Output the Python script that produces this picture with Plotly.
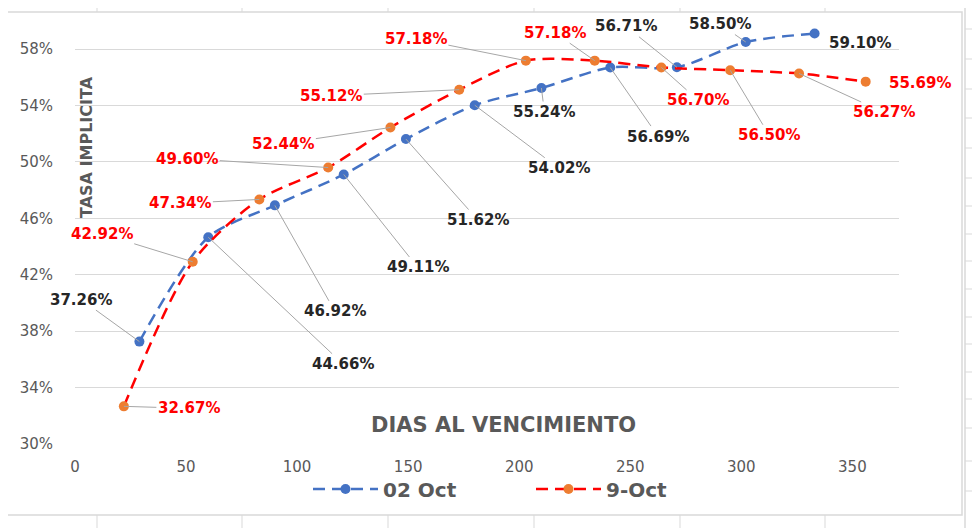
import plotly.graph_objects as go

# Días al vencimiento / tasa implícita (%)
dias_02oct = [29, 60, 90, 121, 149, 180, 210, 241, 271, 302, 333]
tasa_02oct = [37.26, 44.66, 46.92, 49.11, 51.62, 54.02, 55.24, 56.69, 56.71, 58.50, 59.10]

dias_09oct = [22, 53, 83, 114, 142, 173, 203, 234, 264, 295, 326, 356]
tasa_09oct = [32.67, 42.92, 47.34, 49.60, 52.44, 55.12, 57.18, 57.18, 56.70, 56.50, 56.27, 55.69]

y_ticks = [30, 34, 38, 42, 46, 50, 54, 58]
y_labels = ['30%', '34%', '38%', '42%', '46%', '50%', '54%', '58%']
x_ticks = [0, 50, 100, 150, 200, 250, 300, 350]

# label offsets in pixels (text centre relative to point), None = no leader line
off_02oct = [(-58, -42), (135, 127), (60, 106), (74, 93), (72, 81), (84, 63),
             (3, 24), (48, 69), (-51, -41), (-26, -18), None]
off_09oct = [(65, 2), (-91, -28), (-79, 4), (-141, -9), (-107, 16), (-128, 6),
             (-110, -22), (-40, -28), (37, 33), (39, 65), (85, 39), None]
free_02oct = {10: (45, 9)}
free_09oct = {11: (54, 1)}

BLUE = '#4472C4'
RED = '#FF0000'
ORANGE = '#ED7D31'
GREY = '#595959'
FONT = 'DejaVu Sans'

# plot area in screen pixels, used to place the decorative frame
PX_L, PX_R, PX_T, PX_B = 75, 899, 11, 444


def px(x):
    return (x - PX_L) / (PX_R - PX_L)


def py(y):
    return (PX_B - y) / (PX_B - PX_T)


fig = go.Figure()

fig.add_trace(go.Scatter(
    x=dias_02oct, y=tasa_02oct, name='02 Oct', mode='lines+markers',
    line=dict(color=BLUE, width=2.5, dash='12px,7px', shape='spline', smoothing=0.8),
    marker=dict(color=BLUE, size=10),
))
fig.add_trace(go.Scatter(
    x=dias_09oct, y=tasa_09oct, name='9-Oct', mode='lines+markers',
    line=dict(color=RED, width=2.5, dash='12px,7px', shape='spline', smoothing=0.8),
    marker=dict(color=ORANGE, size=10),
))


def add_labels(xs, ys, offsets, free, color):
    for i, (xv, yv) in enumerate(zip(xs, ys)):
        txt = f'<b>{yv:.2f}%</b>'
        font = dict(family=FONT, size=15, color=color)
        if offsets[i] is None:
            dx, dy = free[i]
            fig.add_annotation(x=xv, y=yv, text=txt, showarrow=False,
                               xshift=dx, yshift=-dy, font=font)
        else:
            dx, dy = offsets[i]
            fig.add_annotation(x=xv, y=yv, text=txt, showarrow=True,
                               ax=dx, ay=dy, arrowhead=0, arrowwidth=1,
                               arrowcolor='#A6A6A6', standoff=0, font=font)


add_labels(dias_02oct, tasa_02oct, off_02oct, free_02oct, '#262626')
add_labels(dias_09oct, tasa_09oct, off_09oct, free_09oct, RED)

# axis titles sit inside the plot area, as in the original
fig.add_annotation(x=px(503), y=py(425), xref='paper', yref='paper', showarrow=False,
                   xanchor='center', yanchor='middle',
                   text='<b>DIAS AL VENCIMIENTO</b>',
                   font=dict(family=FONT, size=21, color=GREY))
fig.add_annotation(x=px(86), y=py(147), xref='paper', yref='paper', showarrow=False,
                   xanchor='center', yanchor='middle',
                   text='<b>TASA IMPLICITA</b>', textangle=-90,
                   font=dict(family=FONT, size=16, color=GREY))

# chart frame and the sheet gridlines peeking around it
frame = dict(color='#D9D9D9', width=1.5)
fig.add_shape(type='rect', xref='paper', yref='paper',
              x0=px(7), x1=px(962), y0=py(515), y1=py(12),
              line=frame, fillcolor='rgba(0,0,0,0)')
fig.add_shape(type='line', xref='paper', yref='paper',
              x0=px(965), x1=px(965), y0=py(0), y1=py(528), line=frame)
for cx in [97, 242, 388, 534, 680, 825]:
    for y0, y1 in [(0, 12), (515, 528)]:
        fig.add_shape(type='line', xref='paper', yref='paper',
                      x0=px(cx), x1=px(cx), y0=py(y0), y1=py(y1),
                      line=dict(color='#D9D9D9', width=1))
for ry in [29, 59, 89, 118, 148, 178, 206, 234, 261, 289, 317, 344, 372, 399, 428, 461, 491]:
    for x0, x1 in [(0, 7), (965, 972)]:
        fig.add_shape(type='line', xref='paper', yref='paper',
                      x0=px(x0), x1=px(x1), y0=py(ry), y1=py(ry),
                      line=dict(color='#D9D9D9', width=1))

# page body adds an 8px offset, so the figure is 8px smaller than the window
fig.update_layout(
    width=972, height=520,
    margin=dict(l=67, r=81, t=3, b=84),
    paper_bgcolor='white', plot_bgcolor='white',
    font=dict(family=FONT, color=GREY),
    showlegend=True,
    legend=dict(orientation='h', x=px(308), xanchor='left', y=py(489), yanchor='middle',
                font=dict(family=FONT, size=20, color=GREY, weight='bold'),
                itemwidth=65, entrywidth=143, entrywidthmode='pixels',
                bgcolor='rgba(0,0,0,0)'),
    xaxis=dict(range=[0, 371], tickvals=x_ticks, showgrid=False, zeroline=False,
               showline=False, ticks='', tickfont=dict(size=15, color=GREY),
               ticklabelstandoff=12),
    yaxis=dict(range=[30, 60.7], tickvals=y_ticks, ticktext=y_labels, showgrid=True,
               gridcolor='#D9D9D9', gridwidth=1, zeroline=False, showline=False,
               ticks='', tickfont=dict(size=15, color=GREY), ticklabelstandoff=21),
)

fig.write_html('out.html')
